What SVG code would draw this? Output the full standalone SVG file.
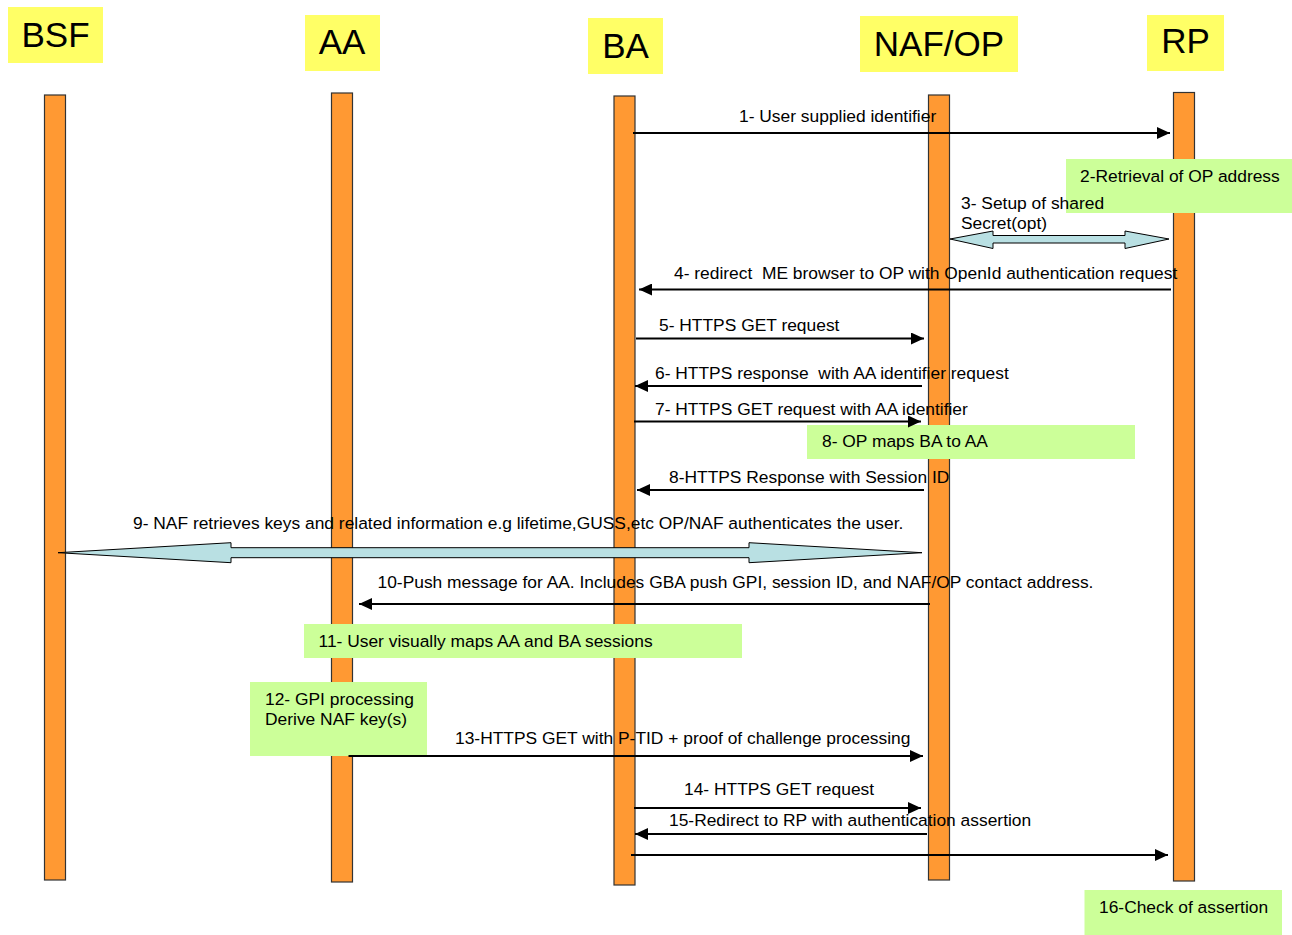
<svg xmlns="http://www.w3.org/2000/svg" width="1292" height="935" viewBox="0 0 1292 935">
<defs>
<style>
.hdr{fill:#FFFF66}
.hdrt{font-family:"Liberation Sans",Arial,sans-serif;font-size:35px;fill:#000;text-anchor:middle}
.life{fill:#FF9933;stroke:#333;stroke-width:1.2}
.note{fill:#CCFF99}
.t{font-family:"Liberation Sans",Arial,sans-serif;font-size:17.4px;fill:#000}
.msg{stroke:#000;stroke-width:2;fill:none;marker-end:url(#ah)}
.blk{fill:#B9E0E3;stroke:#000;stroke-width:1}
</style>
<marker id="ah" markerUnits="userSpaceOnUse" markerWidth="14" markerHeight="12" refX="13" refY="6" orient="auto">
<path d="M0,0 L13,6 L0,12 Z" fill="#000"/>
</marker>
</defs>
<rect width="1292" height="935" fill="#fff"/>

<g id="BSF">
<rect class="hdr" x="8" y="7" width="95" height="56"/>
<text class="hdrt" x="55.5" y="47">BSF</text>
<rect class="life" x="44.5" y="95" width="21" height="785"/>
</g>
<g id="AA">
<rect class="hdr" x="305" y="15" width="75" height="56"/>
<text class="hdrt" x="342" y="54">AA</text>
<rect class="life" x="331.5" y="93" width="21" height="789"/>
</g>
<g id="BA">
<rect class="hdr" x="588" y="18" width="75" height="56"/>
<text class="hdrt" x="625.5" y="58">BA</text>
<rect class="life" x="614" y="96" width="21" height="789"/>
</g>
<g id="NAFOP">
<rect class="hdr" x="860" y="16" width="158" height="56"/>
<text class="hdrt" x="939" y="56">NAF/OP</text>
<rect class="life" x="928.5" y="95" width="21" height="785"/>
</g>
<g id="RP">
<rect class="hdr" x="1147" y="15" width="77" height="56"/>
<text class="hdrt" x="1185.5" y="53">RP</text>
<rect class="life" x="1173.5" y="92.5" width="21" height="788.5"/>
</g>

<g id="notes">
<g id="n2"><rect class="note" x="1066" y="159" width="226" height="54"/><text class="t" x="1080" y="182">2-Retrieval of OP address</text></g>
<g id="n8"><rect class="note" x="807" y="425" width="328" height="34"/><text class="t" x="822" y="447">8- OP maps BA to AA</text></g>
<g id="n11"><rect class="note" x="304" y="624" width="438" height="34"/><text class="t" x="318.5" y="647">11- User visually maps AA and BA sessions</text></g>
<g id="n12"><rect class="note" x="250" y="682" width="177" height="74"/><text class="t" x="265" y="705">12- GPI processing</text><text class="t" x="265" y="725">Derive NAF key(s)</text></g>
<g id="n16"><rect class="note" x="1084.5" y="890" width="197.5" height="45"/><text class="t" x="1099" y="913">16-Check of assertion</text></g>
</g>

<g id="connectors">
<line class="msg" x1="633" y1="133" x2="1170" y2="133"/>
<polygon class="blk" points="950,239 993,231 993,235.5 1125,235.5 1125,231 1169,239 1125,248.5 1125,243 993,243 993,248.5"/>
<line class="msg" x1="1171" y1="289.5" x2="639" y2="289.5"/>
<line class="msg" x1="636" y1="338.5" x2="924" y2="338.5"/>
<line class="msg" x1="922" y1="386" x2="635" y2="386"/>
<line class="msg" x1="634" y1="421.5" x2="921" y2="421.5"/>
<line class="msg" x1="924" y1="490" x2="637" y2="490"/>
<polygon class="blk" points="58,552.7 231,542.7 231,547.7 749,547.7 749,542.7 922,552.7 749,562.7 749,557.7 231,557.7 231,562.7"/>
<line class="msg" x1="930" y1="604" x2="359" y2="604"/>
<line class="msg" x1="348.5" y1="756" x2="923" y2="756"/>
<line class="msg" x1="634" y1="808" x2="921" y2="808"/>
<line class="msg" x1="927" y1="834" x2="635" y2="834"/>
<line class="msg" x1="631" y1="855" x2="1168" y2="855"/>
</g>

<g id="labels">
<text class="t" x="739" y="122">1- User supplied identifier</text>
<text class="t" x="961" y="209">3- Setup of shared</text>
<text class="t" x="961" y="229">Secret(opt)</text>
<text class="t" x="674" y="279" xml:space="preserve">4- redirect  ME browser to OP with OpenId authentication request</text>
<text class="t" x="659" y="331">5- HTTPS GET request</text>
<text class="t" x="655" y="379" xml:space="preserve">6- HTTPS response  with AA identifier request</text>
<text class="t" x="655" y="415">7- HTTPS GET request with AA identifier</text>
<text class="t" x="669" y="483">8-HTTPS Response with Session ID</text>
<text class="t" x="133" y="529">9- NAF retrieves keys and related information e.g lifetime,GUSS,etc OP/NAF authenticates the user.</text>
<text class="t" x="377.5" y="588">10-Push message for AA. Includes GBA push GPI, session ID, and NAF/OP contact address.</text>
<text class="t" x="455" y="744">13-HTTPS GET with P-TID + proof of challenge processing</text>
<text class="t" x="684" y="795">14- HTTPS GET request</text>
<text class="t" x="669" y="826">15-Redirect to RP with authentication assertion</text>
</g>
</svg>
